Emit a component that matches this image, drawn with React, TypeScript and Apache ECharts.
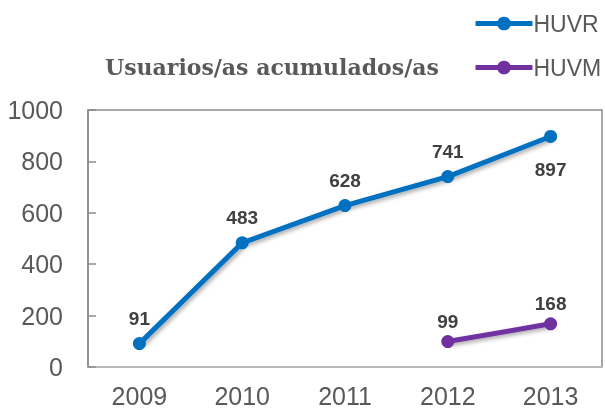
import React, { useEffect, useRef } from "react";
import * as echarts from "echarts";

const years = ["2009", "2010", "2011", "2012", "2013"];
const huvr = [91, 483, 628, 741, 897];
const huvm = [null, null, null, 99, 168];
const yTicks = [0, 200, 400, 600, 800, 1000];

const blue = "#0070C0";
const purple = "#7030A0";
const labelColor = "#404040";

export default function App() {
  const ref = useRef<HTMLDivElement>(null);
  useEffect(() => {
    const chart = echarts.init(ref.current!, null, { renderer: "svg" });
    const labelBase = {
      show: true,
      fontFamily: "Arial, Liberation Sans, sans-serif",
      fontWeight: "bold" as const,
      fontSize: 19,
      color: labelColor,
    };
    const huvrData = huvr.map((v, i) => ({
      value: v,
      label:
        i === huvr.length - 1
          ? { ...labelBase, position: "bottom", distance: 17 }
          : { ...labelBase, position: "top", distance: 9 },
    }));
    const huvmData = huvm.map((v) => ({
      value: v,
      label: { ...labelBase, position: "top", distance: 4 },
    }));
    const lineShadow = {
      shadowColor: "rgba(0,0,0,0.35)",
      shadowBlur: 4,
      shadowOffsetX: 2,
      shadowOffsetY: 2,
    };
    chart.setOption({
      animation: false,
      title: {
        text: "Usuarios/as acumulados/as",
        left: 100,
        top: 51,
        textStyle: {
          fontFamily: "DejaVu Serif, serif",
          fontWeight: "bold",
          fontSize: 22,
          color: "#595959",
        },
      },
      legend: {
        orient: "vertical",
        left: 468,
        top: 7,
        itemWidth: 57,
        itemHeight: 17,
        itemGap: 21,
        lineStyle: { width: 5 },
        textStyle: {
          fontFamily: "Arial, Liberation Sans, sans-serif",
          fontSize: 23,
          color: "#595959",
          padding: [0, 0, 0, -4],
        },
        data: ["HUVR", "HUVM"],
      },
      grid: {
        left: 88,
        right: 3,
        top: 110,
        bottom: 42,
        show: true,
        borderColor: "#8C8C8C",
        borderWidth: 1.5,
      },
      xAxis: {
        type: "category",
        data: years,
        boundaryGap: true,
        axisLine: { lineStyle: { color: "#C0C0C0", width: 1.5 } },
        axisTick: { inside: true, length: 6, lineStyle: { color: "#C0C0C0", width: 1.5 } },
        axisLabel: {
          margin: 16,
          fontFamily: "Arial, Liberation Sans, sans-serif",
          fontSize: 25,
          lineHeight: 25,
          color: "#595959",
        },
      },
      yAxis: {
        type: "value",
        min: 0,
        max: 1000,
        interval: 200,
        splitLine: { show: false },
        axisLine: { show: true, lineStyle: { color: "#8C8C8C", width: 1.5 } },
        axisTick: { show: true, inside: true, length: 8, lineStyle: { color: "#8C8C8C", width: 1.5 } },
        axisLabel: {
          margin: 25,
          fontFamily: "Arial, Liberation Sans, sans-serif",
          fontSize: 25,
          color: "#595959",
          formatter: (v: number) => (yTicks.includes(v) ? String(v) : ""),
        },
      },
      series: [
        {
          name: "HUVR",
          type: "line",
          data: huvrData,
          symbol: "circle",
          symbolSize: 13,
          itemStyle: { color: blue },
          lineStyle: { color: blue, width: 5, ...lineShadow },
        },
        {
          name: "HUVM",
          type: "line",
          data: huvmData,
          symbol: "circle",
          symbolSize: 13,
          itemStyle: { color: purple },
          lineStyle: { color: purple, width: 5, ...lineShadow },
        },
      ],
    });
    return () => chart.dispose();
  }, []);
  return (
    <div
      ref={ref}
      style={{ position: "fixed", left: 0, top: 0, width: 605, height: 409 }}
    />
  );
}
